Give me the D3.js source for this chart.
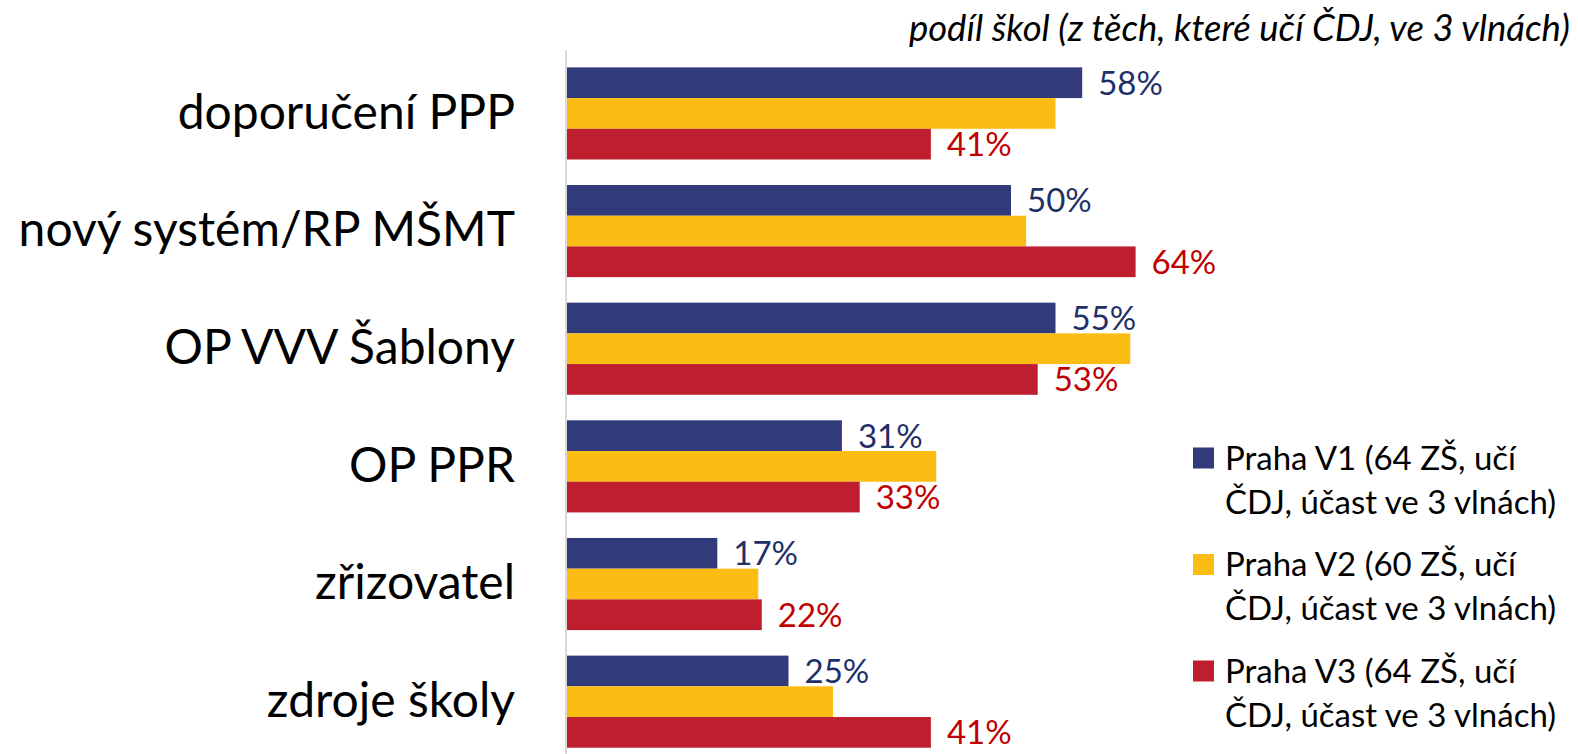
<!DOCTYPE html>
<html>
<head>
<meta charset="utf-8">
<script src="https://cdn.jsdelivr.net/npm/d3@7"></script>
<style>
  body { margin: 0; background: #fff; }
  svg { display: block; font-family: Lato, "Noto Sans", sans-serif; }
</style>
</head>
<body>
<div id="chart"></div>
<script>
const categories = ["doporučení PPP", "nový systém/RP MŠMT", "OP VVV Šablony", "OP PPR", "zřizovatel", "zdroje školy"];
const seriesNames = [
  "Praha V1 (64 ZŠ, učí|ČDJ, účast ve 3 vlnách)",
  "Praha V2 (60 ZŠ, učí|ČDJ, účast ve 3 vlnách)",
  "Praha V3 (64 ZŠ, učí|ČDJ, účast ve 3 vlnách)"
];
const v1 = [58, 50, 55, 31, 17, 25];
const v2 = [55, 51.7, 63.4, 41.6, 21.6, 30];
const v3 = [41, 64, 53, 33, 22, 41];
const colors = ["#313a7b", "#fbbc14", "#be1e2d"];
const labelColors = ["#1f3068", null, "#c00000"];
const title = "podíl škol (z těch, které učí ČDJ, ve 3 vlnách)";

const width = 1578, height = 754;
const svg = d3.select("#chart").append("svg")
  .attr("width", width).attr("height", height);

const series = [v1, v2, v3];
const data = categories.map((c, i) => ({ cat: c, vals: series.map(s => s[i]) }));

const x = d3.scaleLinear().domain([0, 70]).range([566, 566 + 623]);
const y0 = d3.scaleBand().domain(categories).range([54.6, 760.5])
  .paddingInner(0.217).paddingOuter(0.1085);
const y1 = d3.scaleBand().domain([0, 1, 2]).range([0, y0.bandwidth()]);

// bars
const groups = svg.selectAll("g.grp").data(data).enter().append("g")
  .attr("class", "grp")
  .attr("transform", d => `translate(0,${y0(d.cat)})`);

groups.selectAll("rect").data(d => d.vals).enter().append("rect")
  .attr("x", x(0))
  .attr("y", (d, i) => y1(i))
  .attr("width", d => x(d) - x(0))
  .attr("height", y1.bandwidth())
  .attr("fill", (d, i) => colors[i]);

// value labels (V1 and V3 only)
groups.selectAll("text.val").data(d => d.vals.map((v, i) => ({ v, i })).filter(e => e.i !== 1))
  .enter().append("text")
  .attr("class", "val")
  .attr("x", e => x(e.v) + 16)
  .attr("y", e => y1(e.i) + y1.bandwidth() / 2)
  .attr("dy", "0.36em")
  .attr("font-size", 33)
  .attr("fill", e => labelColors[e.i])
  .text(e => Math.round(e.v) + "%");

// category axis
const axis = svg.append("g")
  .attr("transform", `translate(${x(0)},0)`)
  .call(d3.axisLeft(y0).tickSize(0).tickSizeOuter(0).tickPadding(51));
axis.select(".domain").remove();
axis.selectAll("text").attr("font-size", 48).attr("fill", "#000")
  .attr("font-family", "Lato, 'Noto Sans', sans-serif");

svg.append("line")
  .attr("x1", x(0)).attr("x2", x(0))
  .attr("y1", 50).attr("y2", height)
  .attr("stroke", "#d9d9d9").attr("stroke-width", 2);

// title
svg.append("text")
  .attr("x", 1570).attr("y", 41)
  .attr("text-anchor", "end")
  .attr("font-size", 36.5)
  .attr("font-style", "italic")
  .text(title);

// legend
const legend = svg.append("g").attr("transform", "translate(1193,0)");
seriesNames.forEach((name, i) => {
  const yy = 458 + i * 106.5;
  legend.append("rect")
    .attr("x", 0).attr("y", yy - 10.5)
    .attr("width", 21).attr("height", 21)
    .attr("fill", colors[i]);
  const t = legend.append("text")
    .attr("x", 32).attr("y", yy)
    .attr("font-size", 33).attr("fill", "#000");
  name.split("|").forEach((ln, k) => {
    t.append("tspan").attr("x", 32).attr("dy", k === 0 ? "0.36em" : 44).text(ln);
  });
});
</script>
</body>
</html>
